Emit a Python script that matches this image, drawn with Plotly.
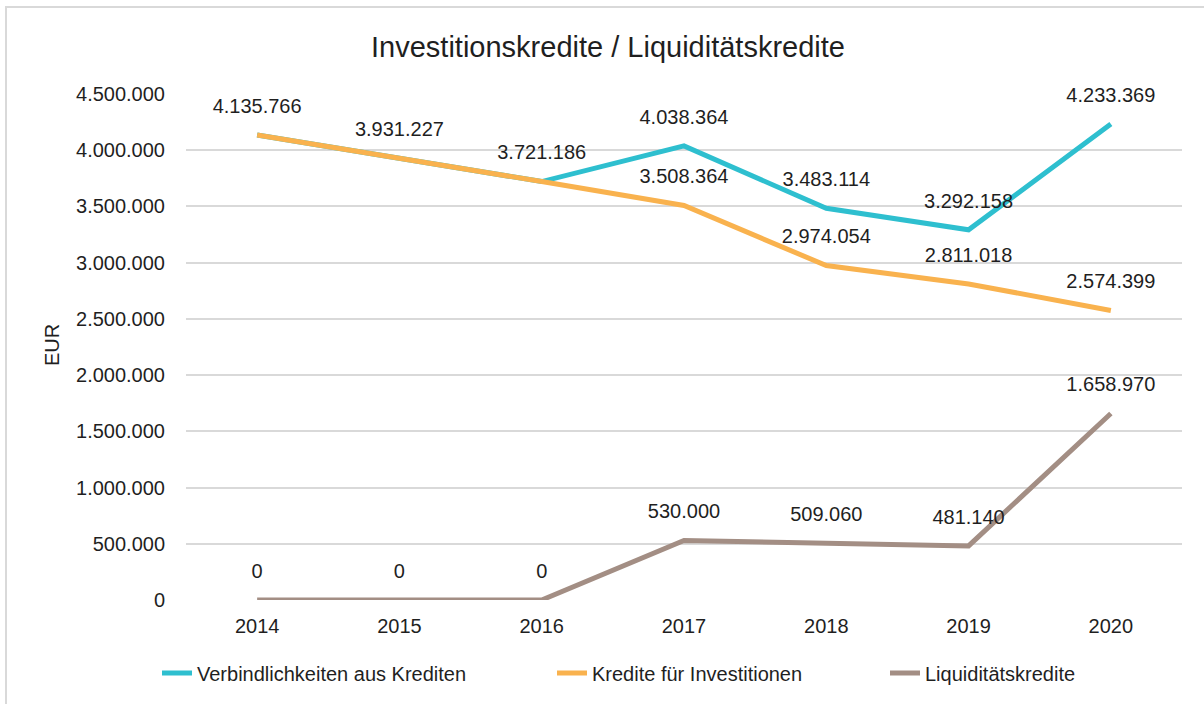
import plotly.graph_objects as go

years = ["2014", "2015", "2016", "2017", "2018", "2019", "2020"]
verbindlichkeiten = [4135766, 3931227, 3721186, 4038364, 3483114, 3292158, 4233369]
investitionen = [4135766, 3931227, 3721186, 3508364, 2974054, 2811018, 2574399]
liquiditaet = [0, 0, 0, 530000, 509060, 481140, 1658970]

names = ["Verbindlichkeiten aus Krediten", "Kredite für Investitionen", "Liquiditätskredite"]
colors = ["#2EBFCF", "#F9B24E", "#A38E84"]
legends = ["legend", "legend2", "legend3"]

FONT = "Arial, Liberation Sans, sans-serif"
TXT = "#1F1F1F"

def fmt(v):
    return f"{v:,.0f}".replace(",", ".")

# label text: avoid drawing identical label twice where two series coincide
teal_text = [fmt(v) if v != o else "" for v, o in zip(verbindlichkeiten, investitionen)]
orange_text = [fmt(v) for v in investitionen]
brown_text = [fmt(v) for v in liquiditaet]
series = [verbindlichkeiten, investitionen, liquiditaet]
texts = [teal_text, orange_text, brown_text]

W, H = 1204, 704
L, T = 186, 94
R = W - 1182
B = H - 600
pw = W - L - R
ph = H - T - B

def px_x(p):
    return (p - L) / pw

def px_y(p):
    return (H - B - p) / ph

fig = go.Figure()
for nm, col, vals, txt, lg in zip(names, colors, series, texts, legends):
    fig.add_trace(go.Scatter(
        x=years, y=vals, name=nm, legend=lg,
        mode="lines+markers+text",
        line=dict(color=col, width=5),
        marker=dict(size=26, color="rgba(0,0,0,0)"),
        text=txt,
        textposition="top center",
        textfont=dict(family=FONT, size=20, color=TXT),
        cliponaxis=False,
        hoverinfo="skip",
    ))

def leg(textstart):
    return dict(
        x=px_x(textstart - 41), xanchor="left",
        y=px_y(673), yanchor="middle",
        orientation="h",
        font=dict(family=FONT, size=20, color=TXT),
        bgcolor="rgba(0,0,0,0)", borderwidth=0,
        itemwidth=30,
    )

fig.update_layout(
    width=W, height=H,
    margin=dict(l=L, r=R, t=T, b=B, autoexpand=False),
    paper_bgcolor="white", plot_bgcolor="white",
    separators=",.",
    title=dict(
        text="Investitionskredite / Liquiditätskredite",
        x=608 / W, xanchor="center",
        y=1 - 47 / H, yanchor="middle", yref="container",
        font=dict(family=FONT, size=29, color=TXT),
    ),
    xaxis=dict(
        type="category", range=[-0.5, 6.5],
        showgrid=False, showline=False, zeroline=False, ticks="",
        tickfont=dict(family=FONT, size=20, color=TXT),
        ticklabelstandoff=12,
    ),
    yaxis=dict(
        range=[0, 4500000], dtick=500000, tickformat=",.0f",
        showgrid=True, gridcolor="#D9D9D9", gridwidth=1.5,
        showline=False, zeroline=False, ticks="",
        tickfont=dict(family=FONT, size=20, color=TXT),
        ticklabelstandoff=20,
    ),
    legend=leg(198),
    legend2=leg(593),
    legend3=leg(926),
    annotations=[dict(
        text="EUR", textangle=-90, xref="paper", yref="paper",
        x=px_x(52), y=px_y(345), xanchor="center", yanchor="middle",
        showarrow=False, font=dict(family=FONT, size=20, color=TXT),
    )],
    shapes=[dict(
        type="rect", xref="paper", yref="paper",
        x0=px_x(6), x1=px_x(1214), y0=px_y(714), y1=px_y(7),
        line=dict(color="#D9D9D9", width=2), fillcolor="rgba(0,0,0,0)",
        layer="below",
    )],
    showlegend=True,
)

fig.write_html(
    "out.html",
    config={"displayModeBar": False},
    post_script="document.body.style.margin='0';document.body.style.overflow='hidden';",
)
